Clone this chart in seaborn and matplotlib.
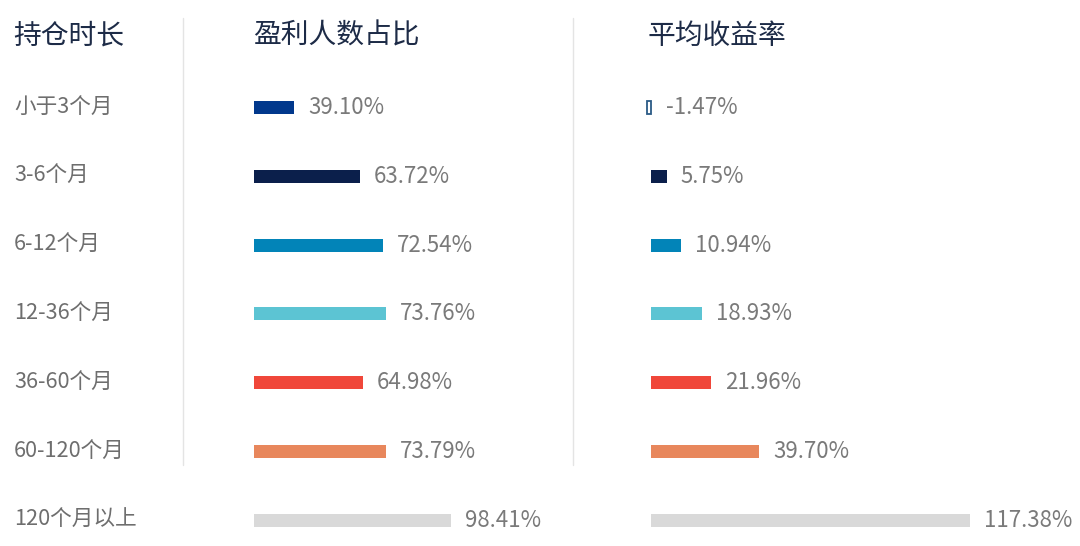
import matplotlib
matplotlib.use("Agg")
import matplotlib.pyplot as plt
import matplotlib.transforms as mtransforms
from matplotlib.lines import Line2D
import seaborn as sns
import pandas as pd

# ---------------- data ----------------
categories = ["小于3个月", "3-6个月", "6-12个月", "12-36个月", "36-60个月", "60-120个月", "120个月以上"]
profit_ratio = [39.10, 63.72, 72.54, 73.76, 64.98, 73.79, 98.41]
avg_return = [-1.47, 5.75, 10.94, 18.93, 21.96, 39.70, 117.38]
colors = ["#01388c", "#0b1f4b", "#0284b8", "#5cc4d3", "#f0473a", "#e8875c", "#d9d9d9"]
header_left = "持仓时长"
header_mid = "盈利人数占比"
header_right = "平均收益率"

df = pd.DataFrame({"cat": categories, "ratio": profit_ratio, "ret": avg_return})

sns.set_theme(style="white")
plt.rcParams["font.family"] = ["Noto Sans CJK SC", "DejaVu Sans"]

W, H = 1080, 546
fig = plt.figure(figsize=(W / 100, H / 100), dpi=100)
fig.patch.set_facecolor("white")

# vertical layout (pixels from top)
row0, row_step = 107.5, 68.8
ylim_top, ylim_bot = -0.5, 6.35
ax_top_px = row0 + ylim_top * row_step
ax_bot_px = row0 + ylim_bot * row_step
ax_b = (H - ax_bot_px) / H
ax_h = (ax_bot_px - ax_top_px) / H

# left value axis: value 23.7 at x=253.5px, 2.65 px per unit
l_left_px, l_w_px, l_scale, l_off = 253.5, 320.0, 2.65, 23.7
ax1 = fig.add_axes([l_left_px / W, ax_b, l_w_px / W, ax_h])
# right value axis: value 0 at x=651px, 2.72 px per unit
r_left_px, r_w_px, r_scale, r_zero = 620.0, 460.0, 2.72, 651.0
ax2 = fig.add_axes([r_left_px / W, ax_b, r_w_px / W, ax_h])

bar_w = 13.0 / row_step
sns.barplot(data=df, x="ratio", y="cat", hue="cat", palette=colors, legend=False,
            orient="h", width=bar_w, ax=ax1, saturation=1, linewidth=0)
sns.barplot(data=df, x="ret", y="cat", hue="cat", palette=colors, legend=False,
            orient="h", width=bar_w, ax=ax2, saturation=1, linewidth=0)

ax1.set_xlim(l_off, l_off + l_w_px / l_scale)
x2_left = -(r_zero - r_left_px) / r_scale
ax2.set_xlim(x2_left, x2_left + r_w_px / r_scale)

for ax in (ax1, ax2):
    ax.set_ylim(ylim_bot, ylim_top)
    ax.set_axis_off()

# negative bar drawn as outlined box
for p in ax2.patches:
    if p.get_width() < 0:
        p.set_facecolor("white")
        p.set_edgecolor("#2b5a86")
        p.set_linewidth(1.3)

val_color = "#7a7a7a"
for i, v in enumerate(profit_ratio):
    ax1.annotate(f"{v:.2f}%", xy=(v, i), xytext=(10.0, 0), textcoords="offset points",
                 ha="left", va="center", fontsize=16, color=val_color, annotation_clip=False)
for i, v in enumerate(avg_return):
    ax2.annotate(f"{v:.2f}%", xy=(max(v, 0), i), xytext=(10.0 if v > 0 else 11.0, 0),
                 textcoords="offset points", ha="left", va="center", fontsize=16,
                 color=val_color, annotation_clip=False)

# row labels
trans = mtransforms.blended_transform_factory(fig.transFigure, ax1.transData)
for i, c in enumerate(categories):
    fig.text(14 / W, i, c, transform=trans, ha="left", va="center", fontsize=15.6, color="#6e6e6e")

# headers
head_color = "#1d2b47"
hy = 1 - 36 / H
fig.text(13 / W, hy, header_left, ha="left", va="center", fontsize=20, color=head_color)
fig.text(253 / W, hy, header_mid, ha="left", va="center", fontsize=20, color=head_color)
fig.text(648 / W, hy, header_right, ha="left", va="center", fontsize=20, color=head_color)

# divider lines
for xp in (182.5, 572.5):
    fig.add_artist(Line2D([xp / W, xp / W], [1 - 18 / H, 1 - 465 / H], color="#e4e4e4",
                          lw=1.0, transform=fig.transFigure))

fig.savefig("out.png", dpi=100, facecolor="white")
